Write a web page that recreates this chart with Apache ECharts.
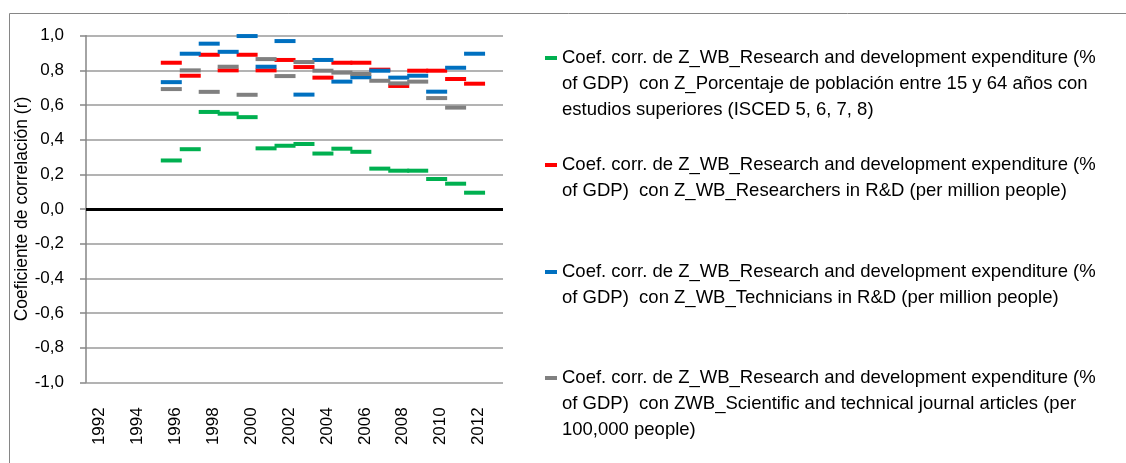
<!DOCTYPE html>
<html>
<head>
<meta charset="utf-8">
<script src="https://cdn.jsdelivr.net/npm/echarts@6/dist/echarts.min.js"></script>
<style>html,body{margin:0;padding:0;background:#fff;}#c{width:1126px;height:463px;}</style>
</head>
<body>
<div id="c"></div>
<script>
const years = ['1992','1993','1994','1995','1996','1997','1998','1999','2000','2001','2002','2003','2004','2005','2006','2007','2008','2009','2010','2011','2012','2013'];
const yTicks = [-1, -0.8, -0.6, -0.4, -0.2, 0, 0.2, 0.4, 0.6, 0.8, 1];
const seriesNames = [
  'Coef. corr. de Z_WB_Research and development expenditure (%\nof GDP)  con Z_Porcentaje de población entre 15 y 64 años con\nestudios superiores (ISCED 5, 6, 7, 8)',
  'Coef. corr. de Z_WB_Research and development expenditure (%\nof GDP)  con Z_WB_Researchers in R&D (per million people)',
  'Coef. corr. de Z_WB_Research and development expenditure (%\nof GDP)  con Z_WB_Technicians in R&D (per million people)',
  'Coef. corr. de Z_WB_Research and development expenditure (%\nof GDP)  con ZWB_Scientific and technical journal articles (per\n100,000 people)'
];
const greenVals = [null,null,null,null,0.28,0.345,0.56,0.55,0.53,0.35,0.365,0.375,0.32,0.348,0.33,0.233,0.221,0.221,0.173,0.146,0.094,null];
const redVals   = [null,null,null,null,0.844,0.769,0.89,0.80,0.89,0.80,0.86,0.819,0.758,0.844,0.844,0.804,0.71,0.798,0.798,0.75,0.723,null];
const blueVals  = [null,null,null,null,0.732,0.896,0.954,0.907,0.998,0.821,0.969,0.66,0.86,0.735,0.76,0.798,0.758,0.769,0.677,0.815,0.896,null];
const grayVals  = [null,null,null,null,0.692,0.80,0.676,0.821,0.659,0.865,0.767,0.848,0.798,0.787,0.779,0.74,0.725,0.735,0.64,0.585,null,null];
const colors = ['#00B050','#FF0000','#0070C0','#808080'];
const allVals = [greenVals, redVals, blueVals, grayVals];

const FONT = "'Liberation Sans', Arial, sans-serif";
const LH = 26;
const firstLineY = [57, 164, 271, 377];

const chart = echarts.init(document.getElementById('c'), null, {renderer:'canvas'});

const legends = seriesNames.map((name, i) => {
  const n = name.split('\n').length;
  return {
    data: [name],
    orient: 'vertical',
    left: 540,
    top: firstLineY[i] - 4 - (2 * n - 1) * LH / 2,
    itemWidth: 12,
    itemHeight: 4,
    itemGap: 0,
    icon: 'rect',
    selectedMode: false,
    formatter: function (nm) { return '\n'.repeat(nm.split('\n').length - 1) + nm; },
    textStyle: { fontFamily: FONT, fontSize: 18.5, color: '#000', lineHeight: LH }
  };
});

const series = allVals.map((vals, i) => ({
  name: seriesNames[i],
  type: 'scatter',
  data: vals,
  symbol: 'rect',
  symbolSize: [21, 4],
  itemStyle: { color: colors[i], opacity: 1 },
  z: 3 + i,
  silent: true,
  markLine: i === 0 ? {
    silent: true, symbol: 'none', label: {show: false},
    lineStyle: { color: '#000', width: 3, type: 'solid' },
    data: [{ yAxis: 0 }],
    z: 2
  } : undefined
}));

chart.setOption({
  animation: false,
  backgroundColor: '#fff',
  textStyle: { fontFamily: FONT },
  graphic: [{
    type: 'rect', shape: { x: 9.5, y: 13.5, width: 1300, height: 600 },
    style: { fill: 'none', stroke: '#868686', lineWidth: 1 }, silent: true, z: -1
  }],
  grid: { left: 86, right: 1126 - 503, top: 35.7, bottom: 463 - 382.3, containLabel: false },
  legend: legends,
  xAxis: {
    type: 'category',
    data: years,
    boundaryGap: true,
    axisLine: { show: false },
    axisTick: { show: false },
    splitLine: { show: false },
    axisLabel: { interval: 1, rotate: 90, margin: 25, fontSize: 17, color: '#000', fontFamily: FONT, verticalAlign: 'top', lineHeight: 8 }
  },
  yAxis: {
    type: 'value',
    min: yTicks[0], max: yTicks[yTicks.length - 1], interval: 0.2,
    name: 'Coeficiente de correlación (r)',
    nameLocation: 'middle',
    nameGap: 55,
    nameTextStyle: { fontSize: 17.5, color: '#000', fontFamily: FONT },
    axisLine: { show: true, lineStyle: { color: '#868686', width: 1.5 } },
    axisTick: { show: true, length: 6, lineStyle: { color: '#868686', width: 1.5 } },
    splitLine: { show: true, lineStyle: { color: '#9a9a9a', width: 1.5 } },
    axisLabel: {
      margin: 22, fontSize: 17, color: '#000', fontFamily: FONT,
      formatter: function (v) { return v.toFixed(1).replace('.', ','); }
    }
  },
  series: series
});
</script>
</body>
</html>
